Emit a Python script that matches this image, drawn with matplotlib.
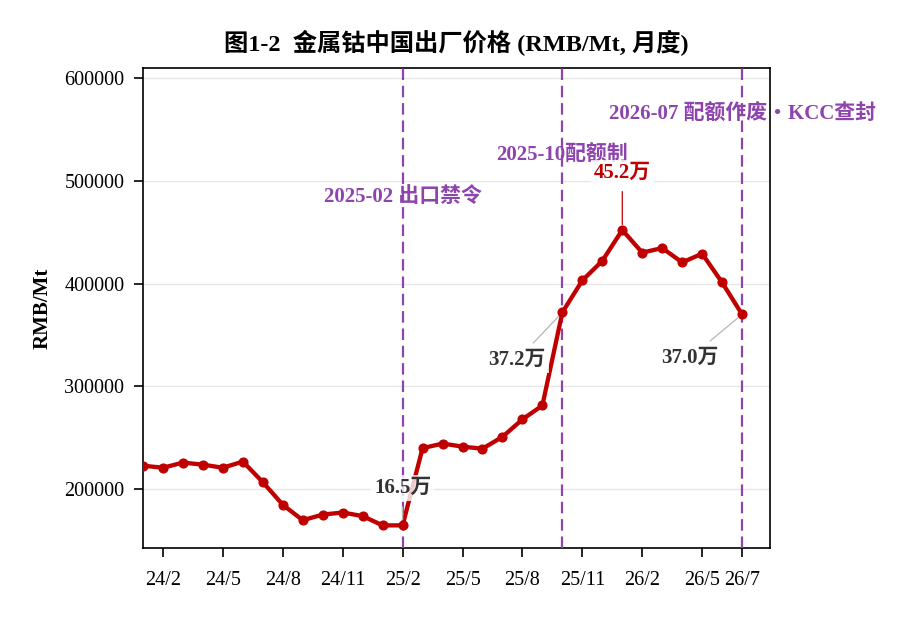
import numpy as np
import matplotlib
matplotlib.use("Agg")
from matplotlib import pyplot as plt

plt.rcParams['font.family'] = ['Liberation Serif', 'Noto Sans CJK SC', 'DejaVu Sans']

# monthly price, 2024/1 .. 2026/7
months = ["24/1", "24/2", "24/3", "24/4", "24/5", "24/6", "24/7", "24/8", "24/9", "24/10",
          "24/11", "24/12", "25/1", "25/2", "25/3", "25/4", "25/5", "25/6", "25/7", "25/8",
          "25/9", "25/10", "25/11", "25/12", "26/1", "26/2", "26/3", "26/4", "26/5", "26/6", "26/7"]
price = [223000, 221000, 226000, 224000, 221000, 227000, 207000, 185000, 170000, 175500,
         177500, 174000, 165000, 165000, 240000, 244500, 241500, 239500, 251000, 268000,
         281500, 372000, 403000, 422000, 452000, 430000, 434500, 420500, 429000, 401000, 370000]

tick_months = ["24/2", "24/5", "24/8", "24/11", "25/2", "25/5", "25/8", "25/11", "26/2", "26/5", "26/7"]

events = [("25/2", "2025-02 出口禁令", 484500),
          ("25/10", "2025-10配额制", 524500),
          ("26/7", "2026-07 配额作废・KCC查封", 564500)]

# (month, label, text x offset in months, text y, colour)
notes = [("25/2", "16.5万", 0.0, 201000, "#333333"),
         ("25/10", "37.2万", -2.27, 325500, "#333333"),
         ("26/1", "45.2万", 0.0, 507500, "#C00000"),
         ("26/7", "37.0万", -2.6, 328000, "#333333")]

RED = "#C00000"
PURPLE = "#8E44AD"

x = np.arange(len(months))
fig = plt.figure(figsize=(9, 6.2), dpi=100)
ax = fig.add_axes([0.1589, 0.1156, 0.6967, 0.7752])

ax.plot(x, price, color=RED, lw=3.1, marker="o", ms=6.3, zorder=4)

for m, txt, ty in events:
    xi = months.index(m)
    ax.axvline(xi, color=PURPLE, ls=(0, (5.2, 2.6)), lw=1.6, zorder=3)
    ax.text(xi, ty, txt, color=PURPLE, fontsize=15, fontweight="bold", ha="center", va="center",
            zorder=2, clip_on=False,
            bbox=dict(boxstyle="square,pad=0.15", fc="white", ec="none", alpha=0.6))

for m, txt, dx, ty, col in notes:
    xi = months.index(m)
    line_col = RED if col == RED else "#b5b5b5"
    ax.annotate(txt, xy=(xi, price[xi]), xytext=(xi + dx, ty), ha="center", va="center",
                fontsize=15, fontweight="bold", color=col, zorder=5,
                bbox=dict(boxstyle="square,pad=0.15", fc="white", ec="none", alpha=0.8),
                arrowprops=dict(arrowstyle="-", color=line_col, lw=0.9, shrinkA=4, shrinkB=4))

ax.set_xlim(0, 31.4)
ax.set_ylim(142700, 609700)
ax.set_xticks([months.index(m) for m in tick_months])
ax.set_xticklabels(tick_months)
ax.set_yticks([200000, 300000, 400000, 500000, 600000])
ax.tick_params(axis="both", labelsize=14.5, length=6.5, width=1.2, pad=7)
ax.tick_params(axis="x", pad=10)
ax.grid(axis="y", color="#e6e6e6", lw=1)
ax.set_axisbelow(True)
for s in ax.spines.values():
    s.set_linewidth(1.2)

ax.set_ylabel("RMB/Mt", fontsize=15, fontweight="bold", labelpad=8)
ax.set_title("图1-2  金属钴中国出厂价格 (RMB/Mt, 月度)", fontsize=17.5, fontweight="bold", pad=12)

fig.savefig("out.png", dpi=100)
